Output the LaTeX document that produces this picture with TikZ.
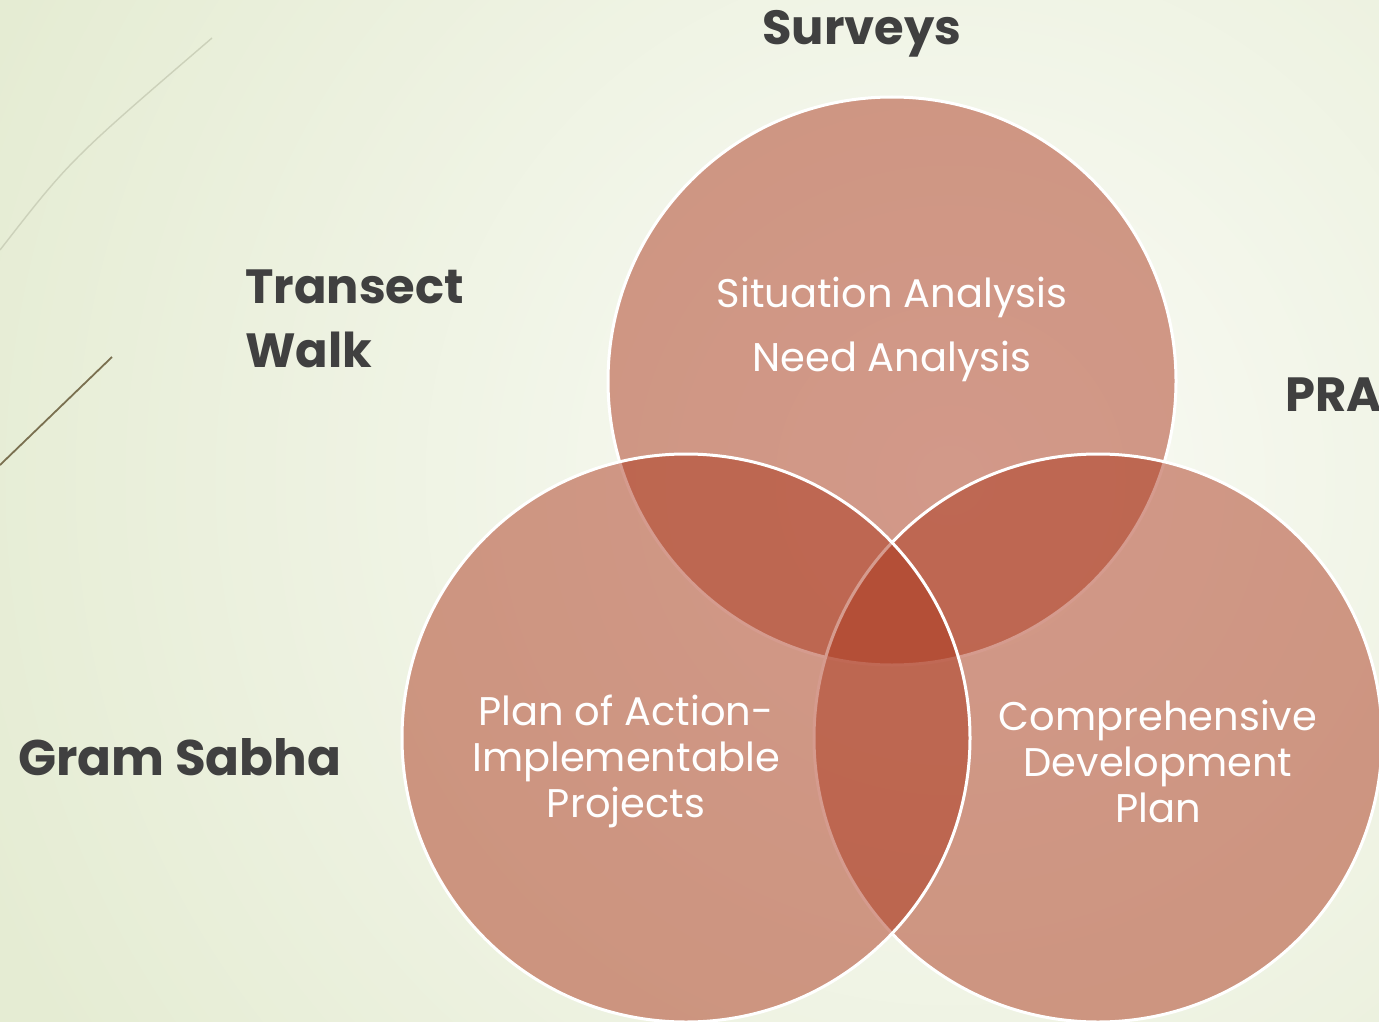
\documentclass[tikz,border=0pt]{standalone}
\usepackage{fontspec}
\setmainfont{Poppins}
\usetikzlibrary{positioning}
\definecolor{venncol}{RGB}{172,56,30}
\definecolor{labelgray}{RGB}{64,64,64}
\definecolor{bgin}{RGB}{250,251,246}
\definecolor{bgout}{RGB}{229,236,211}
\definecolor{swishlight}{RGB}{204,209,186}
\definecolor{swishdark}{RGB}{122,112,80}

\begin{document}
\begin{tikzpicture}[
            x=1pt, y=-1pt,
            venn/.style={circle, draw=white, line width=3pt, fill=venncol, fill opacity=0.5, draw opacity=1, minimum size=568pt, inner sep=0pt},
            inside/.style={text=white, align=center, inner sep=0pt, font=\fontsize{40}{46}\selectfont},
            tool/.style={text=labelgray, inner sep=0pt, font=\bfseries\fontsize{48}{64}\selectfont}
        ]
        \useasboundingbox (0,0) rectangle (1379,1022);
        \clip (0,0) rectangle (1379,1022);
        
        % background
        \fill[bgout] (0,0) rectangle (1379,1022);
        \shade[inner color=bgin, outer color=bgout] (950,480) circle[radius=1050pt];
        \draw[swishlight, line width=1.4pt] (0,250) .. controls (70,160) .. (212,38);
        \draw[swishdark, line width=1.8pt] (0,465) -- (112,357);
        
        % circles
        \node[venn] (survey_c) at (892,381) {};
        \node[venn] (pra_c) at (1098,738) {};
        \node[venn] (sabha_c) at (686,738) {};
        
        \node[inside, font=\fontsize{40}{64}\selectfont] (analysis) at (892,329) {Situation Analysis\\Need Analysis};
        \node[inside] (action) at (626,761) {Plan of Action-\\Implementable\\Projects};
        \node[inside] (cdp) at (1158,761) {Comprehensive\\Development\\Plan};
        
        % tools
        \node[tool] (surveys) at (862,34) {Surveys};
        \node[tool, anchor=west, align=left] (transect) at (245,319) {Transect\\Walk};
        \node[tool, anchor=west, font=\bfseries\fontsize{50}{64}\selectfont] (gram) at (18,757) {Gram Sabha};
        \node[tool, anchor=west] (pra) at (1285,395) {PRA};
        
        \end{tikzpicture}
\end{document}
